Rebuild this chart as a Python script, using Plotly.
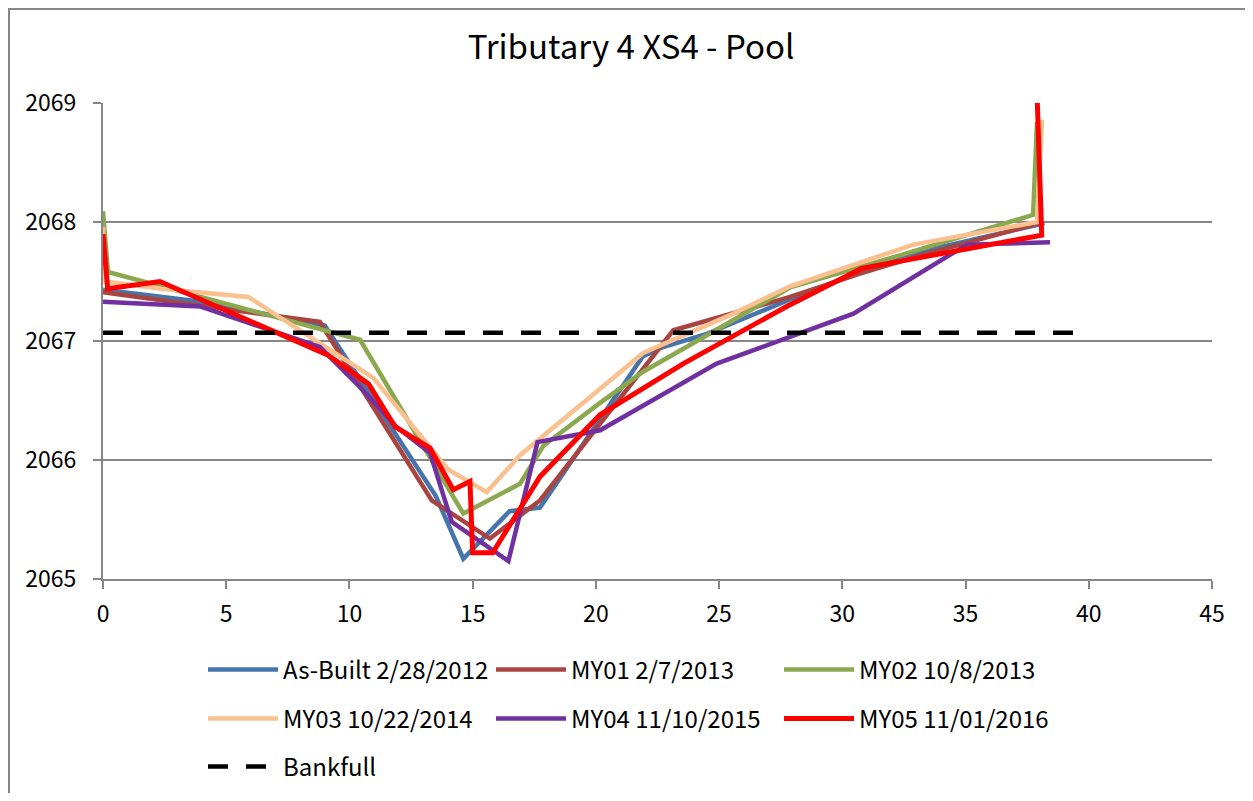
import plotly.graph_objects as go

# ---- data ----
asbuilt_x = [0, 4.0, 9.0, 10.6, 13.5, 14.62, 16.5, 17.73, 21.9, 22.6, 24.5, 27.88, 32.34, 38.2]
asbuilt_y = [2067.43, 2067.33, 2067.13, 2066.62, 2065.70, 2065.17, 2065.57, 2065.60, 2066.87, 2066.94, 2067.06, 2067.35, 2067.71, 2067.99]

my01_x = [0, 8.8, 13.34, 15.7, 17.73, 23.14, 27.88, 30.78, 33.0, 38.0]
my01_y = [2067.41, 2067.16, 2065.66, 2065.34, 2065.66, 2067.09, 2067.37, 2067.57, 2067.71, 2067.99]

my02_x = [0, 0.2, 10.43, 14.62, 16.92, 17.87, 20.17, 21.9, 24.77, 27.88, 32.34, 37.74, 37.9]
my02_y = [2068.09, 2067.58, 2067.01, 2065.55, 2065.80, 2066.12, 2066.48, 2066.74, 2067.08, 2067.45, 2067.72, 2068.06, 2068.84]

my03_x = [0, 0.1, 2.38, 5.9, 10.97, 14.0, 15.57, 16.92, 21.92, 25.58, 27.88, 32.88, 37.9, 38.1]
my03_y = [2067.96, 2067.50, 2067.44, 2067.37, 2066.69, 2065.92, 2065.73, 2066.04, 2066.90, 2067.23, 2067.46, 2067.81, 2068.00, 2068.86]

my04_x = [0, 3.94, 8.8, 10.3, 11.9, 13.27, 14.15, 15.7, 16.45, 17.63, 20.17, 24.9, 30.45, 35.05, 38.43]
my04_y = [2067.33, 2067.29, 2066.95, 2066.64, 2066.28, 2066.06, 2065.48, 2065.26, 2065.15, 2066.15, 2066.25, 2066.81, 2067.23, 2067.81, 2067.83]

my05_x = [0, 0.19, 2.31, 9.14, 10.77, 11.85, 13.27, 14.21, 14.89, 15.0, 15.81, 17.73, 20.17, 23.55, 27.74, 30.78, 38.09, 37.85]
my05_y = [2067.90, 2067.44, 2067.50, 2066.88, 2066.64, 2066.28, 2066.10, 2065.75, 2065.82, 2065.22, 2065.22, 2065.86, 2066.38, 2066.81, 2067.29, 2067.61, 2067.89, 2069.40]

bankfull_x = [0, 40]
bankfull_y = [2067.07, 2067.07]

names = ["As-Built 2/28/2012", "MY01 2/7/2013", "MY02 10/8/2013",
         "MY03 10/22/2014", "MY04 11/10/2015", "MY05 11/01/2016"]
colors = ["#4674AD", "#A94441", "#8BA84F", "#FAC08F", "#7030A0", "#FF0000"]
series = [(asbuilt_x, asbuilt_y), (my01_x, my01_y), (my02_x, my02_y),
          (my03_x, my03_y), (my04_x, my04_y), (my05_x, my05_y)]
legend_ids = ["legend", "legend", "legend", "legend2", "legend2", "legend2"]

FONT = "Noto Sans CJK SC, Liberation Sans, sans-serif"

fig = go.Figure()
for (xs, ys), nm, c, lg in zip(series, names, colors, legend_ids):
    fig.add_trace(go.Scatter(x=xs, y=ys, mode="lines", name=nm, legend=lg,
                             line=dict(color=c, width=5 if nm.startswith("MY05") else 4.5)))
fig.add_trace(go.Scatter(x=bankfull_x, y=bankfull_y, mode="lines", name="Bankfull",
                         legend="legend3",
                         line=dict(color="black", width=4.5, dash="20px,18px")))

# page offset (body margin) compensation
OFF = 8
W, H = 1253 - 2 * OFF, 801 - 2 * OFF
L = 103 - OFF
T = 103 - OFF
R = W - (1212 - OFF)
B = H - (579 - OFF)
pw, ph = W - L - R, H - T - B

def px2x(page_px):
    return (page_px - OFF - L) / pw

def py2y(page_py):
    return (H - B - (page_py - OFF)) / ph

leg_common = dict(orientation="h", xanchor="left", yanchor="middle",
                  font=dict(family=FONT, size=24, color="black"),
                  itemwidth=70, entrywidth=203, bgcolor="rgba(0,0,0,0)",
                  traceorder="normal")

fig.update_layout(
    width=W, height=H,
    margin=dict(l=L, r=R, t=T, b=B, autoexpand=False),
    paper_bgcolor="white", plot_bgcolor="white",
    font=dict(family=FONT, size=23, color="black"),
    title=dict(text="Tributary 4 XS4 - Pool", x=(631 - OFF) / W, xref="container", xanchor="center",
               y=1 - (47 - OFF) / H, yref="container", yanchor="middle",
               font=dict(family=FONT, size=33, color="black")),
    xaxis=dict(range=[0, 45], dtick=5, tick0=0, showgrid=False, zeroline=False,
               showline=True, linecolor="#868686", linewidth=2,
               ticks="outside", ticklen=8, tickcolor="#868686", tickwidth=2,
               ticklabelstandoff=5,
               tickfont=dict(family=FONT, size=23, color="black")),
    yaxis=dict(range=[2065, 2069], dtick=1, showgrid=True, gridcolor="#868686", gridwidth=2,
               zeroline=False, showline=True, linecolor="#868686", linewidth=2,
               ticks="outside", ticklen=8, tickcolor="#868686", tickwidth=2,
               ticklabelstandoff=12,
               tickfont=dict(family=FONT, size=23, color="black")),
    legend=dict(x=px2x(203), y=py2y(670), **leg_common),
    legend2=dict(x=px2x(203), y=py2y(719), **leg_common),
    legend3=dict(x=px2x(203), y=py2y(767), **leg_common),
    showlegend=True,
    shapes=[dict(type="rect", xref="paper", yref="paper",
                 x0=px2x(OFF + 1), x1=px2x(1262), y0=py2y(812), y1=py2y(OFF + 1),
                 line=dict(color="#868686", width=2), fillcolor="rgba(0,0,0,0)", layer="below")],
)

fig.write_html("out.html")
